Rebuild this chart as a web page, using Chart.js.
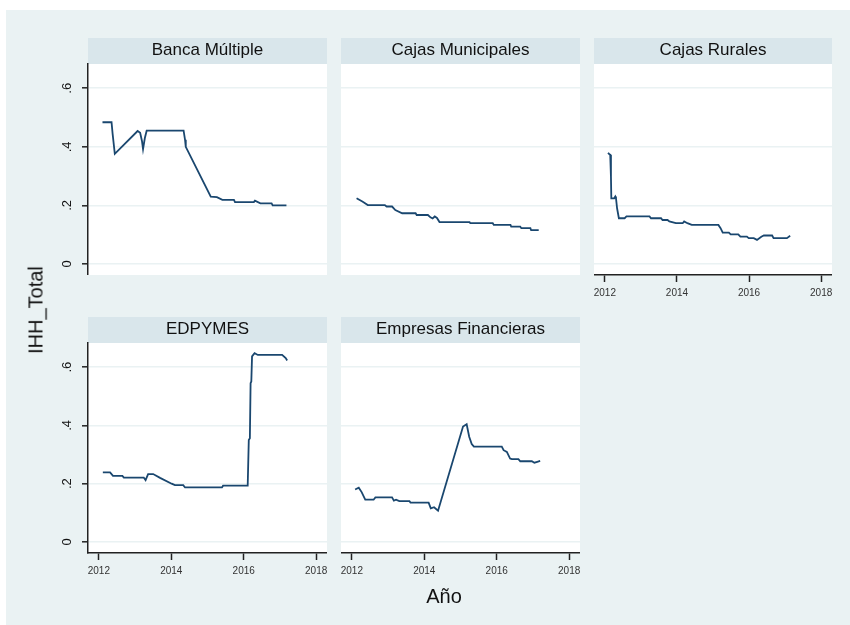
<!DOCTYPE html>
<html>
<head>
<meta charset="utf-8">
<script src="https://cdn.jsdelivr.net/npm/chart.js@4.4.1/dist/chart.umd.min.js"></script>
<style>
  html, body { margin:0; padding:0; background:#ffffff; }
  #page { position:relative; width:850px; height:625px; overflow:hidden; background:#ffffff; }
  #bg { position:absolute; left:6px; top:10px; right:0; bottom:0; background:#eaf2f3; }
  canvas { position:absolute; }
  .axtitle { position:absolute; font-family:'Liberation Sans', Arial, sans-serif; color:#111; white-space:nowrap; }
</style>
</head>
<body>
<div id="page">
  <div id="bg"></div>
  <canvas id="c1"></canvas>
  <canvas id="c2"></canvas>
  <canvas id="c3"></canvas>
  <canvas id="c4"></canvas>
  <canvas id="c5"></canvas>
  <div class="axtitle" id="ytitle" style="font-size:20px; left:36px; top:310px; transform:translate(-50%,-50%) rotate(-90deg);">IHH_Total</div>
  <div class="axtitle" id="xtitle" style="font-size:20px; left:444px; top:596px; transform:translate(-50%,-50%);">Año</div>
</div>
<script>
// ---------- DATA ----------
const panelNames = ['Banca Múltiple', 'Cajas Municipales', 'Cajas Rurales', 'EDPYMES', 'Empresas Financieras'];
const xTicks = [2012, 2014, 2016, 2018];
const yTicks = [0, 0.2, 0.4, 0.6];
const yTickLabels = ['0', '.2', '.4', '.6'];

const bancaX = [2012.10, 2012.35, 2012.38, 2012.44, 2013.07, 2013.14, 2013.19, 2013.22, 2013.27, 2013.32, 2014.34, 2014.38, 2014.40, 2015.09, 2015.26, 2015.41, 2015.73, 2015.76, 2016.28, 2016.31, 2016.46, 2016.77, 2016.80, 2017.18];
const bancaY = [0.484, 0.484, 0.444, 0.376, 0.454, 0.448, 0.420, 0.392, 0.430, 0.455, 0.455, 0.424, 0.400, 0.230, 0.228, 0.219, 0.219, 0.211, 0.211, 0.216, 0.207, 0.207, 0.200, 0.200];

const cmacX = [2012.13, 2012.29, 2012.44, 2012.91, 2012.96, 2013.11, 2013.20, 2013.39, 2013.76, 2013.79, 2014.10, 2014.17, 2014.23, 2014.29, 2014.35, 2014.42, 2015.25, 2015.27, 2015.89, 2015.92, 2016.38, 2016.40, 2016.65, 2016.68, 2016.93, 2016.95, 2017.16];
const cmacY = [0.224, 0.213, 0.201, 0.201, 0.196, 0.196, 0.184, 0.173, 0.173, 0.167, 0.167, 0.159, 0.155, 0.162, 0.157, 0.143, 0.143, 0.139, 0.139, 0.133, 0.133, 0.127, 0.127, 0.122, 0.122, 0.115, 0.115];

const crX = [2012.09, 2012.12, 2012.15, 2012.17, 2012.18, 2012.26, 2012.29, 2012.31, 2012.34, 2012.39, 2012.55, 2012.60, 2013.24, 2013.28, 2013.56, 2013.60, 2013.74, 2013.79, 2013.97, 2014.16, 2014.20, 2014.29, 2014.41, 2015.15, 2015.21, 2015.27, 2015.44, 2015.49, 2015.70, 2015.76, 2015.94, 2015.99, 2016.13, 2016.22, 2016.34, 2016.41, 2016.64, 2016.68, 2017.05, 2017.14];
const crY = [0.380, 0.375, 0.373, 0.298, 0.224, 0.224, 0.230, 0.224, 0.190, 0.156, 0.156, 0.162, 0.162, 0.156, 0.156, 0.150, 0.150, 0.145, 0.139, 0.139, 0.145, 0.139, 0.133, 0.133, 0.122, 0.107, 0.107, 0.101, 0.101, 0.093, 0.093, 0.088, 0.088, 0.082, 0.093, 0.097, 0.097, 0.088, 0.088, 0.096];

const edpX = [2012.11, 2012.31, 2012.39, 2012.65, 2012.69, 2013.24, 2013.29, 2013.36, 2013.50, 2013.69, 2014.01, 2014.10, 2014.33, 2014.38, 2015.40, 2015.43, 2016.11, 2016.14, 2016.17, 2016.19, 2016.21, 2016.23, 2016.30, 2016.39, 2017.06, 2017.16, 2017.20];
const edpY = [0.239, 0.239, 0.227, 0.227, 0.221, 0.221, 0.212, 0.233, 0.233, 0.220, 0.200, 0.195, 0.195, 0.187, 0.187, 0.193, 0.193, 0.350, 0.356, 0.545, 0.551, 0.637, 0.648, 0.642, 0.642, 0.631, 0.623];

const efX = [2012.09, 2012.19, 2012.27, 2012.37, 2012.60, 2012.65, 2013.11, 2013.16, 2013.22, 2013.31, 2013.59, 2013.62, 2014.12, 2014.18, 2014.27, 2014.38, 2015.07, 2015.17, 2015.24, 2015.31, 2015.37, 2016.14, 2016.19, 2016.28, 2016.37, 2016.42, 2016.60, 2016.65, 2016.97, 2017.04, 2017.12, 2017.20];
const efY = [0.180, 0.186, 0.171, 0.145, 0.145, 0.153, 0.153, 0.142, 0.145, 0.140, 0.140, 0.135, 0.135, 0.115, 0.119, 0.107, 0.396, 0.404, 0.361, 0.336, 0.327, 0.327, 0.315, 0.309, 0.286, 0.284, 0.284, 0.277, 0.277, 0.272, 0.275, 0.278];

// ---------- LAYOUT ----------
const BG = '#eaf2f3', STRIP = '#d9e6eb', LINE = '#1a476f', FONT = "'Liberation Sans', Arial, sans-serif";
const X_MIN = 2011.7, X_MAX = 2018.3, Y_MIN = -0.038, Y_MAX = 0.683;
const TITLE_H = 26, XAXIS_H = 32, YAXIS_W = 50;

const panels = [
  { id:'c1', name:panelNames[0], xs:bancaX, ys:bancaY, left:88,  top:64,  w:239, h:211, yAxis:true,  xAxis:false },
  { id:'c2', name:panelNames[1], xs:cmacX,  ys:cmacY,  left:341, top:64,  w:239, h:211, yAxis:false, xAxis:false },
  { id:'c3', name:panelNames[2], xs:crX,    ys:crY,    left:594, top:64,  w:238, h:211, yAxis:false, xAxis:true  },
  { id:'c4', name:panelNames[3], xs:edpX,   ys:edpY,   left:88,  top:343, w:239, h:210, yAxis:true,  xAxis:true  },
  { id:'c5', name:panelNames[4], xs:efX,    ys:efY,    left:341, top:343, w:239, h:210, yAxis:false, xAxis:true  }
];

const panelBg = {
  id:'panelBg',
  beforeDraw(chart) {
    const ctx = chart.ctx, a = chart.chartArea, t = chart.titleBlock;
    ctx.save();
    ctx.fillStyle = '#ffffff';
    ctx.fillRect(a.left, a.top, a.right - a.left, a.bottom - a.top);
    if (t) { ctx.fillStyle = STRIP; ctx.fillRect(a.left, t.top, a.right - a.left, t.bottom - t.top); }
    ctx.restore();
  }
};

const rotatedYLabels = {
  id:'rotatedYLabels',
  afterDraw(chart, args, opts) {
    if (!opts.enabled) return;
    const ctx = chart.ctx, s = chart.scales.y;
    ctx.save();
    ctx.fillStyle = '#111';
    ctx.font = "13px " + FONT;
    ctx.textAlign = 'center';
    ctx.textBaseline = 'middle';
    yTicks.forEach((v, i) => {
      const y = s.getPixelForValue(v);
      ctx.save();
      ctx.translate(chart.chartArea.left - 21, y);
      ctx.rotate(-Math.PI / 2);
      ctx.fillText(yTickLabels[i], 0, 0);
      ctx.restore();
    });
    ctx.restore();
  }
};

panels.forEach(p => {
  const cv = document.getElementById(p.id);
  const padL = p.yAxis ? YAXIS_W : 0;
  const W = padL + p.w;
  const H = TITLE_H + p.h + (p.xAxis ? XAXIS_H : 0);
  cv.width = W; cv.height = H;
  cv.style.width = W + 'px'; cv.style.height = H + 'px';
  cv.style.left = (p.left - padL) + 'px';
  cv.style.top = (p.top - TITLE_H) + 'px';

  const pts = p.xs.map((x, i) => ({ x: x, y: p.ys[i] }));

  new Chart(cv, {
    type:'line',
    data:{ datasets:[{ data:pts, borderColor:LINE, borderWidth:1.8, pointRadius:0, tension:0, fill:false }] },
    options:{
      responsive:false, animation:false, devicePixelRatio:1,
      layout:{ padding:0 },
      plugins:{
        legend:{ display:false }, tooltip:{ enabled:false },
        title:{ display:true, text:p.name, fullSize:false, color:'#111',
                font:{ family:FONT, size:17, weight:'normal', lineHeight:1.0 },
                padding:{ top:4, bottom:5 } },
        rotatedYLabels:{ enabled:p.yAxis }
      },
      scales:{
        x:{
          type:'linear', min:X_MIN, max:X_MAX, display:p.xAxis,
          afterBuildTicks(s){ s.ticks = xTicks.map(v => ({ value:v })); },
          afterFit(s){ s.height = p.xAxis ? XAXIS_H : 0; s.paddingLeft = 0; s.paddingRight = 0; },
          grid:{ drawOnChartArea:false, drawTicks:true, tickLength:7, tickColor:'#222', tickWidth:1.5 },
          border:{ display:true, color:'#222', width:1.5 },
          ticks:{ color:'#333', font:{ family:FONT, size:10 }, padding:5, maxRotation:0, autoSkip:false,
                  callback:(v) => String(v) }
        },
        y:{
          type:'linear', min:Y_MIN, max:Y_MAX, display:true,
          afterBuildTicks(s){ s.ticks = yTicks.map(v => ({ value:v })); },
          afterFit(s){ s.width = p.yAxis ? YAXIS_W : 0; s.paddingTop = 0; s.paddingBottom = 0; },
          grid:{ color:BG, lineWidth:1.6, drawTicks:p.yAxis, tickLength:6, tickColor:'#222', tickWidth:1.5 },
          border:{ display:p.yAxis, color:'#222', width:1.5 },
          ticks:{ display:false }
        }
      }
    },
    plugins:[panelBg, rotatedYLabels]
  });
});
</script>
</body>
</html>
